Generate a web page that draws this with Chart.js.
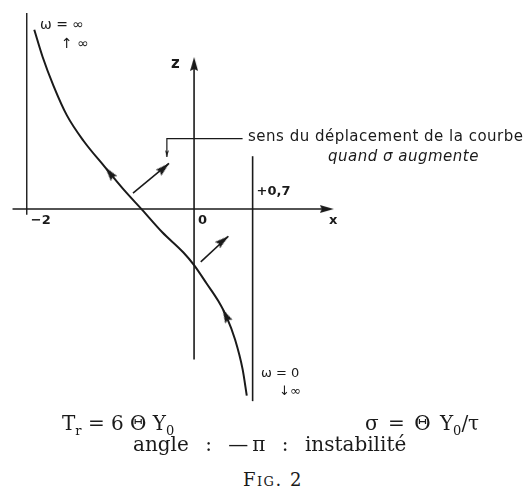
<!DOCTYPE html>
<html>
<head>
<meta charset="utf-8">
<script src="https://cdn.jsdelivr.net/npm/chart.js@4/dist/chart.umd.min.js"></script>
<style>
  body { margin: 0; background: #fff; }
  #wrap { position: relative; width: 527px; height: 501px; }
  #chartBox { position: absolute; left: 0; top: 0; width: 527px; height: 420px; }
  .cap { position: absolute; font-family: "DejaVu Serif", "Liberation Serif", serif; font-size: 20px; color: #1a1a1a; white-space: nowrap; line-height: 1; }
  .cap sub { font-size: 13px; vertical-align: -5px; line-height: 0; }
  .sc { font-variant: small-caps; font-size: 18px; letter-spacing: 1.5px; }
</style>
</head>
<body>
<div id="wrap">
  <div id="chartBox"><canvas id="fig"></canvas></div>
  <div class="cap" style="left:62px;top:413px">T<sub>r</sub> = 6 Θ Y<sub>0</sub></div>
  <div class="cap" style="left:365px;top:413px;word-spacing:3px">σ = Θ Y<sub>0</sub>/τ</div>
  <div class="cap" style="left:133px;top:434px;word-spacing:10px">angle : —&thinsp;π : instabilité</div>
  <div class="cap sc" style="left:243px;top:471px">Fig. 2</div>
</div>
<script>
// lieu de transfert, de ω = 0 (en bas) à ω = ∞ (en haut)
const curveX = [0.63, 0.58, 0.49, 0.39, 0.29, 0.15, 0.00, -0.13, -0.38, -0.62, -0.83, -1.07, -1.32, -1.52, -1.68, -1.81, -1.91];
const curveZ = [-2.33, -2.00, -1.63, -1.35, -1.15, -0.93, -0.70, -0.54, -0.29, -0.01, 0.23, 0.53, 0.85, 1.17, 1.54, 1.90, 2.24];

// abscisses repérées sur l'axe x
const tickValues = [-2, 0, 0.7];
const tickLabels = ['−2', '0', '+0,7'];

// flèches de déplacement de la courbe quand σ augmente
const shiftFrom = [[-0.73, 0.20], [0.08, -0.66]];
const shiftTo = [[-0.30, 0.57], [0.41, -0.34]];

// pointes de flèches : x, z, orientation (degrés)
const arrowX = [1.67, 0, -1.06, 0.34, -0.30, 0.41, -0.325];
const arrowZ = [0, 1.90, 0.52, -1.25, 0.57, -0.34, 0.65];
const arrowAngle = [90, 0, -38, -27, 48, 51, 180];

const ink = '#1a1a1a';

function arrowHead(w, h) {
    // pointe au centre de l'image, base vers le bas
    const c = document.createElement('canvas');
    c.width = w; c.height = 2 * h;
    const g = c.getContext('2d');
    g.fillStyle = ink;
    g.beginPath();
    g.moveTo(w / 2, h);
    g.lineTo(w, 2 * h);
    g.lineTo(w / 2, 2 * h - 2);
    g.lineTo(0, 2 * h);
    g.closePath();
    g.fill();
    return c;
}
const bigHead = arrowHead(8, 14);
const smallHead = arrowHead(4, 7);

function seg(points) {
    return points.map(p => ({ x: p[0], y: p[1] }));
}
function lineSet(data, width) {
    return { data: data, showLine: true, borderColor: ink, borderWidth: width, pointRadius: 0, tension: 0 };
}

const datasets = [
    lineSet(seg([[-2.17, 0], [1.60, 0]]), 1.6),
    lineSet(seg([[0, -1.88], [0, 1.85]]), 1.6),
    lineSet(seg([[tickValues[0], -0.07], [tickValues[0], 2.45]]), 1.4),
    lineSet(seg([[tickValues[2], -2.40], [tickValues[2], 0.66]]), 1.6),
    Object.assign(lineSet(curveX.map((x, i) => ({ x: x, y: curveZ[i] })), 2), { cubicInterpolationMode: 'monotone' }),
    lineSet(seg([shiftFrom[0], shiftTo[0]]), 1.6),
    lineSet(seg([shiftFrom[1], shiftTo[1]]), 1.6),
    lineSet(seg([[-0.325, 0.65], [-0.325, 0.88], [0.58, 0.88]]), 1.2),
    {
        data: arrowX.map((x, i) => ({ x: x, y: arrowZ[i] })),
        showLine: false,
        pointRadius: 3,
        pointStyle: arrowX.map((x, i) => i === arrowX.length - 1 ? smallHead : bigHead),
        pointRotation: arrowAngle
    }
];

// textes du schéma
const sans = '"DejaVu Sans", sans-serif';
const notes = [
    { text: 'ω = ∞', px: 40, py: 25, font: '14px ' + sans },
    { text: '↑ ∞', px: 61, py: 44, font: '14px ' + sans },
    { text: 'z', px: 171, py: 64, font: 'bold 15px ' + sans },
    { text: 'x', px: 329, py: 221, font: 'bold 13px ' + sans },
    { text: 'ω = 0', px: 261, py: 374, font: '13px ' + sans },
    { text: '↓∞', px: 279, py: 392, font: '13px ' + sans },
    { text: 'sens du déplacement de la courbe', px: 248, py: 137, font: '15px ' + sans, spacing: '0.5px' },
    { text: 'quand σ augmente', px: 328, py: 157, font: 'italic 15px ' + sans, spacing: '0.5px' }
];

const textPlugin = {
    id: 'figText',
    afterDatasetsDraw(chart) {
        const ctx = chart.ctx;
        const sx = chart.scales.x, sy = chart.scales.y;
        ctx.save();
        ctx.fillStyle = ink;
        ctx.textBaseline = 'middle';
        ctx.textAlign = 'left';
        notes.forEach(n => {
            ctx.font = n.font;
            ctx.letterSpacing = n.spacing || '0px';
            ctx.fillText(n.text, n.px, n.py);
        });
        ctx.letterSpacing = '0px';
        // étiquettes des abscisses, placées à droite de chaque repère
        ctx.font = 'bold 13px ' + sans;
        const y0 = sy.getPixelForValue(0);
        tickLabels.forEach((t, i) => {
            const xp = sx.getPixelForValue(tickValues[i]);
            const dy = i === 2 ? -17 : 12;
            ctx.fillText(t, xp + 4, y0 + dy);
        });
        ctx.restore();
    }
};

new Chart(document.getElementById('fig'), {
    type: 'scatter',
    data: { datasets: datasets },
    options: {
        responsive: true,
        maintainAspectRatio: false,
        animation: false,
        events: [],
        layout: { padding: 0 },
        plugins: { legend: { display: false }, tooltip: { enabled: false } },
        scales: {
            x: { type: 'linear', min: -2.26, max: 3.92, display: false },
            y: { type: 'linear', min: -2.573, max: 2.549, display: false }
        }
    },
    plugins: [textPlugin]
});
</script>
</body>
</html>
